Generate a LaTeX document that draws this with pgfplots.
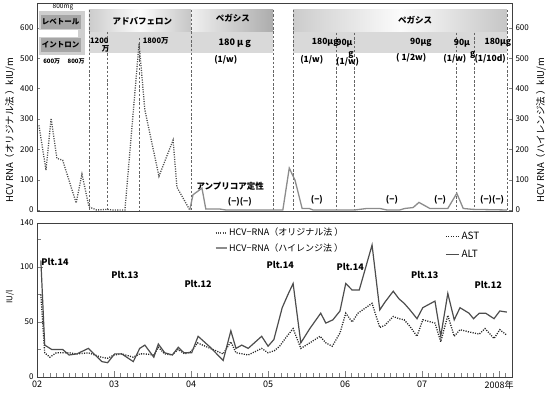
\documentclass[border=0pt]{standalone}
\usepackage{pgfplots}
\pgfplotsset{compat=1.18}
\usepackage{fontspec}
\setmainfont{Noto Sans CJK JP}
\definecolor{ln}{HTML}{4D4D4D}
\definecolor{hr}{HTML}{8C8C8C}
\definecolor{band}{HTML}{D9D9D9}
\definecolor{boxg}{HTML}{A6A6A6}
\definecolor{lbox}{HTML}{CFCFCF}
\pgfplotsset{/pgf/number format/assume math mode=true}
\tikzset{vd/.style={draw=black!60, dash pattern=on 2.5pt off 1.8pt, line width=0.6pt},
  bt/.style={font=\bfseries\fontsize{8.5}{9}\selectfont, inner sep=0pt},
  st/.style={font=\bfseries\fontsize{6}{7}\selectfont, inner sep=0pt},
  dots/.style={line width=1.3pt, dash pattern=on 1.1pt off 1.3pt}}
\begin{document}
\begin{tikzpicture}[x=1pt,y=1pt]
\useasboundingbox (0,0) rectangle (550,396);
% ---------------- top axis ----------------
\begin{axis}[
 at={(37pt,184.5pt)}, anchor=south west, scale only axis,
 width=475pt, height=208.5pt,
 xmin=0, xmax=74, ymin=-5, ymax=682,
 xtick=\empty,
 ytick={0,100,...,600}, ytick pos=left, tick align=inside, major tick length=3pt,
 yticklabel style={font=\fontsize{8}{9}\selectfont},
 axis line style={black!75, line width=0.7pt},
 ylabel={HCV RNA（オリジナル法 ）kIU/m},
 ylabel style={at={(axis description cs:-0.057,0.39)}, anchor=center, font=\fontsize{9.5}{11}\selectfont},
 clip=false,
 legend style={at={(axis description cs:0.372,-0.065)}, anchor=north west, draw=none, fill=none,
   font=\fontsize{9}{10}\selectfont, row sep=2pt, inner sep=1pt},
 legend cell align=left,
 legend image code/.code={\draw[#1] (0pt,0pt) -- (11pt,0pt);},
]
% bands
\fill[lbox] (axis cs:0.3,656) rectangle (axis cs:7.5,511);
\fill[white] (axis cs:0.3,593) rectangle (axis cs:6.4,570);
\fill[boxg] (axis cs:0.62,643) rectangle (axis cs:6.85,597);
\fill[boxg] (axis cs:0.62,567) rectangle (axis cs:6.85,521);
\fill[band] (axis cs:8.1,587) rectangle (axis cs:36.8,518);
\fill[band] (axis cs:39.9,587) rectangle (axis cs:73.2,518);
\fill[left color=gray!40, right color=gray!45, middle color=gray!3] (axis cs:8.1,587) rectangle (axis cs:24,659);
\fill[left color=gray!12, right color=gray!65] (axis cs:24,587) rectangle (axis cs:36.8,659);
\fill[left color=gray!40, right color=gray!45, middle color=gray!3] (axis cs:39.9,587) rectangle (axis cs:73.2,659);
% dashed lines
\draw[vd] (axis cs:8.1,659) -- (axis cs:8.1,0);
\draw[vd] (axis cs:10.9,587) -- (axis cs:10.9,0);
\draw[vd] (axis cs:16.0,567) -- (axis cs:16.0,0);
\draw[vd] (axis cs:24.0,659) -- (axis cs:24.0,0);
\draw[vd] (axis cs:36.8,659) -- (axis cs:36.8,0);
\draw[vd] (axis cs:39.9,659) -- (axis cs:39.9,0);
\draw[vd] (axis cs:46.7,584) -- (axis cs:46.7,0);
\draw[vd] (axis cs:49.4,584) -- (axis cs:49.4,0);
\draw[vd] (axis cs:65.4,584) -- (axis cs:65.4,0);
\draw[vd] (axis cs:68.2,584) -- (axis cs:68.2,0);
\draw[vd] (axis cs:73.2,659) -- (axis cs:73.2,0);
% texts
\node[bt] at (axis cs:16.4,623) {アドバフェロン};
\node[bt] at (axis cs:30.5,633) {ペガシス};
\node[bt] at (axis cs:58.9,626) {ペガシス};
\node[bt,font=\bfseries\fontsize{9}{10}\selectfont] at (axis cs:30.8,551) {180 μ g};
\node[bt] at (axis cs:29.4,495) {(1/w)};
\node[bt] at (axis cs:44.9,551) {180μg};
\node[bt] at (axis cs:47.9,551) {90μ};
\node[bt] at (axis cs:48.9,511) {g};
\node[bt] at (axis cs:42.8,495) {(1/w)};
\node[bt] at (axis cs:48.4,488) {(1/w)};
\node[bt] at (axis cs:59.8,551) {90μg};
\node[bt] at (axis cs:58.3,501) {( 1/2w)};
\node[bt] at (axis cs:66.2,551) {90μ};
\node[bt] at (axis cs:67.9,510) {g};
\node[bt] at (axis cs:65.1,498) {(1/w)};
\node[bt] at (axis cs:71.8,551) {180μg};
\node[bt] at (axis cs:70.6,498) {(1/10d)};
\node[bt,font=\bfseries\fontsize{7.5}{8}\selectfont] at (axis cs:9.7,556) {1200};
\node[bt,font=\bfseries\fontsize{7.5}{8}\selectfont] at (axis cs:10.7,530) {万};
\node[bt,font=\bfseries\fontsize{7.5}{8}\selectfont] at (axis cs:18.5,556) {1800万};
\node[st,font=\fontsize{6.5}{7}\selectfont] at (axis cs:4.05,670) {800mg};
\node[bt,font=\bfseries\fontsize{7.5}{8}\selectfont] at (axis cs:3.7,620) {レベトール};
\node[bt,font=\bfseries\fontsize{7.5}{8}\selectfont] at (axis cs:3.7,544) {イントロン};
\node[st] at (axis cs:2.3,488) {600万};
\node[st] at (axis cs:6.1,488) {800万};
\node[bt] at (axis cs:30.1,79) {アンプリコア定性};
\node[bt] at (axis cs:31.6,28) {(−)(−)};
\node[bt] at (axis cs:43.6,33) {(−)};
\node[bt] at (axis cs:55.3,33) {(−)};
\node[bt] at (axis cs:62.8,33) {(−)};
\node[bt] at (axis cs:70.9,33) {(−)(−)};
% data
\addplot[ln, dots] coordinates {
(0.3,279) (1.4,131) (2.2,302) (3.1,170) (4.0,164) (6.1,23) (7.0,118) (8.1,10) (9.3,0) (11,2) (11.8,0) (13.7,0) (15.9,549) (16.8,330) (19.0,111) (21.2,230) (21.8,75) (23.8,0)};
\addlegendentry{HCV−RNA（オリジナル法 ）}
\addplot[hr, line width=1.3pt] coordinates {
(23.8,0) (24.3,50) (25.7,72) (26.3,3) (28.5,3) (29.4,0) (38.3,0) (39.3,138) (40.2,98) (41.3,5) (42.4,5) (43.0,0) (49.5,0) (51.4,5) (53.4,5) (54.5,0) (56.5,0) (57.3,5) (58.6,8) (59.5,25) (61.2,5) (64.0,5) (65.4,55) (66.4,5) (67.9,2) (73.2,0)};
\addlegendentry{HCV−RNA（ハイレンジ法 ）}
\end{axis}
% ---------------- right axis of top ----------------
\begin{axis}[
 at={(37pt,184.5pt)}, anchor=south west, scale only axis,
 width=475pt, height=208.5pt,
 xmin=0, xmax=74, ymin=-5, ymax=682,
 axis x line=none, axis y line*=right,
 ytick={0,100,...,600}, tick align=inside, major tick length=3pt,
 yticklabel style={font=\fontsize{8}{9}\selectfont},
 axis line style={black!75, line width=0.7pt},
 ylabel={HCV RNA（ハイレンジ法 ）kIU/m},
 ylabel style={at={(axis description cs:1.061,0.39)}, anchor=center, font=\fontsize{9.5}{11}\selectfont},
]
\addplot[draw=none] coordinates {(1,1)};
\end{axis}
% ---------------- bottom axis ----------------
\begin{axis}[
 at={(37pt,19pt)}, anchor=south west, scale only axis,
 width=475pt, height=154pt,
 xmin=0, xmax=74, ymin=0, ymax=140,
 xtick={0,12,...,72}, xticklabels={02,03,04,05,06,07,2008年},
 minor xtick={0,...,74},
 ytick={0,50,100,140}, minor ytick={25,75,125},
 xtick pos=left, ytick pos=left, tick align=inside,
 major tick length=6pt, minor tick length=4pt,
 xticklabel style={font=\fontsize{9}{10}\selectfont},
 yticklabel style={font=\fontsize{8}{9}\selectfont},
 axis line style={black!75, line width=0.7pt},
 ylabel={IU/l},
 ylabel style={at={(axis description cs:-0.057,0.52)}, anchor=center, font=\fontsize{8}{9}\selectfont},
 clip=false,
 legend style={at={(axis description cs:0.857,0.96)}, anchor=north west, draw=none, fill=none,
   font=\fontsize{10}{11}\selectfont, row sep=5pt, inner sep=1pt},
 legend cell align=left,
 legend image code/.code={\draw[#1] (0pt,0pt) -- (13pt,0pt);},
]
\addplot[black!85, dots] coordinates {
(0.6,75) (1.2,22) (2,18) (3,22) (4,22) (5,22) (6.2,21) (8,22) (10,18) (11,17) (12,20) (13.2,21) (15,18) (16,21) (16.8,21) (18.2,20) (18.9,27) (19.9,21) (21,20) (22,25) (23,21) (24,23) (25,31) (27,26) (29,21) (30.2,32) (31,22) (32,21) (32.9,20) (35,26) (36,22) (37,24) (37.8,28) (38.8,36) (39.9,44) (41.1,26) (42.5,31) (44.1,37) (45,31) (46,28) (47.2,40) (48.1,58) (49.1,50) (50,58) (52.2,67) (53.4,45) (54.2,47) (55.5,55) (56.4,53) (57.2,52) (58.1,46) (59.2,37) (60.1,52) (62,49) (62.9,32) (64,56) (65,37) (65.9,43) (67.3,41) (68.9,39) (69.8,44) (71.2,35) (72.1,43) (73.2,38)};
\addlegendentry{AST}
\addplot[ln, line width=1.2pt] coordinates {
(0.6,106) (1.2,29) (2.3,25) (4,25) (5,20) (6.2,21) (8,26) (10.1,14) (11,13) (12.1,21) (13.2,21) (15,14) (16,26) (16.8,29) (18.2,18) (18.9,30) (19.9,22) (21.1,20) (22,27) (22.9,22) (24.1,22) (25.1,37) (27,27) (29,15) (30.2,42) (31,26) (31.9,29) (32.9,26) (35,37) (36,28) (36.9,34) (38.2,63) (39.1,75) (39.9,85) (41.1,31) (42.5,44) (44.2,58) (45,49) (46.1,52) (47.2,60) (48.1,85) (49.1,79) (50.2,79) (52.2,120) (53.4,61) (54.2,68) (55.5,78) (56.4,71) (57.2,67) (58.1,61) (59.2,53) (60.1,63) (62,69) (62.9,37) (64,76) (65,52) (65.9,63) (67.3,58) (68,53) (68.9,58) (69.9,58) (71.2,53) (72.1,60) (73.2,59)};
\addlegendentry{ALT}
\node[font=\bfseries\fontsize{9}{10}\selectfont] at (axis cs:2.8,104.5) {Plt.14};
\node[font=\bfseries\fontsize{9}{10}\selectfont] at (axis cs:13.7,92.7) {Plt.13};
\node[font=\bfseries\fontsize{9}{10}\selectfont] at (axis cs:25.1,84.5) {Plt.12};
\node[font=\bfseries\fontsize{9}{10}\selectfont] at (axis cs:37.9,102) {Plt.14};
\node[font=\bfseries\fontsize{9}{10}\selectfont] at (axis cs:48.8,100) {Plt.14};
\node[font=\bfseries\fontsize{9}{10}\selectfont] at (axis cs:60.4,92.7) {Plt.13};
\node[font=\bfseries\fontsize{9}{10}\selectfont] at (axis cs:70.3,83.6) {Plt.12};
\end{axis}
\end{tikzpicture}
\end{document}
